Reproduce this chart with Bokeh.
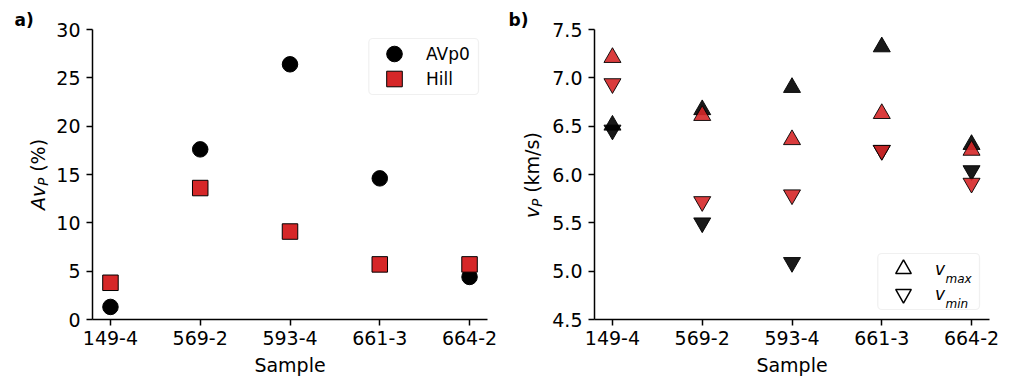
import math
from bokeh.plotting import figure
from bokeh.layouts import row
from bokeh.models import (Range1d, FixedTicker, Legend, LegendItem, Label, Title,
                          ColumnDataSource, PrintfTickFormatter, BoxAnnotation)
from bokeh.embed import file_html
from bokeh.resources import INLINE

# ---------------- data ----------------
samples = ["149-4", "569-2", "593-4", "661-3", "664-2"]

# panel a: P-wave anisotropy (%)
avp_avp0 = [1.3, 17.6, 26.4, 14.6, 4.4]
avp_hill = [3.8, 13.6, 9.1, 5.7, 5.7]

# panel b: vp max / min (km/s)
vmax_avp0 = [6.51, 6.67, 6.90, 7.32, 6.31]
vmin_avp0 = [6.46, 5.50, 5.09, 6.25, 6.04]
vmax_hill = [7.21, 6.61, 6.36, 6.63, 6.25]
vmin_hill = [6.94, 5.72, 5.79, 6.25, 5.91]

a_yticks = [0, 5, 10, 15, 20, 25, 30]
b_yticks = [4.5, 5.0, 5.5, 6.0, 6.5, 7.0, 7.5]

RED = "#d62728"
FONT = "DejaVu Sans"
FS = "19px"
SUB = "13.3px"
H = 379
TOP, BOTTOM = 29, 60          # borders above / below the plotting frames
FRAME_W, FRAME_H = 396, 290

xpos = list(range(len(samples)))
overrides = {i: s for i, s in enumerate(samples)}


def style(p):
    p.outline_line_color = None
    p.xgrid.visible = False
    p.ygrid.visible = False
    p.background_fill_color = "white"
    p.border_fill_color = "white"
    for ax in (p.xaxis[0], p.yaxis[0]):
        ax.axis_line_width = 1.5
        ax.axis_line_color = "black"
        ax.major_tick_line_width = 1.5
        ax.major_tick_line_color = "black"
        ax.major_tick_in = 0
        ax.major_tick_out = 6
        ax.minor_tick_line_color = None
        ax.major_label_text_font = FONT
        ax.major_label_text_font_size = FS
        ax.major_label_text_color = "black"
    p.xaxis.ticker = FixedTicker(ticks=xpos)
    p.xaxis.major_label_overrides = overrides
    p.xaxis.major_label_standoff = 5
    p.yaxis.major_label_standoff = 6
    p.xaxis.axis_label = "Sample"
    p.xaxis.axis_label_text_font = FONT
    p.xaxis.axis_label_text_font_style = "normal"
    p.xaxis.axis_label_text_font_size = FS
    p.xaxis.axis_label_text_color = "black"
    p.xaxis.axis_label_standoff = 6


def strip(width, tag, tag_x):
    # narrow text-only figure holding the panel tag and the y-axis label;
    # its frame is aligned with the neighbouring plot frame, so data y = H - pixel row
    t = Title(text=tag, align="left", offset=tag_x, standoff=0, text_font=FONT,
              text_font_size="17px", text_font_style="bold", text_color="black")
    s = figure(width=width, height=H, x_range=Range1d(0, width),
               y_range=Range1d(H - (H - BOTTOM), H - TOP), x_axis_type=None,
               y_axis_type=None, title=t, output_backend="svg",
               toolbar_location=None, min_border_left=0, min_border_right=0,
               min_border_top=TOP, min_border_bottom=BOTTOM)
    s.outline_line_color = None
    s.xgrid.visible = False
    s.ygrid.visible = False
    return s


def txt(p, text, x, y, fs=FS, st="normal", angle=0, units="data",
        align="left", baseline="alphabetic"):
    p.add_layout(Label(x=x, y=y, x_units=units, y_units=units, text=text,
                       angle=angle, angle_units="deg", text_align=align,
                       text_baseline=baseline, text_font=FONT,
                       text_font_size=fs, text_font_style=st, text_color="black"))


def vtxt(p, text, x, y, fs=FS, st="normal"):
    # vertical text (reading bottom to top), centred on (x, H - y)
    txt(p, text, x, H - y, fs=fs, st=st, angle=90, align="center", baseline="middle")


def legend_box(p, left, right, top, bottom):
    # pixel offsets from the frame's top-left corner -> data coordinates
    xs, xe = p.x_range.start, p.x_range.end
    ys, ye = p.y_range.start, p.y_range.end
    px = lambda v: xs + v / FRAME_W * (xe - xs)
    py = lambda v: ye - v / FRAME_H * (ye - ys)
    p.add_layout(BoxAnnotation(left=px(left), right=px(right), top=py(top),
                               bottom=py(bottom), fill_color="white",
                               fill_alpha=0.8, line_color="#cccccc",
                               line_width=1.2, border_radius=4))


def legend_item(p, label, renderer, x, y, italic=False):
    p.add_layout(Legend(items=[LegendItem(label=label, renderers=[renderer])],
                        location=(x, y), margin=0, padding=0,
                        glyph_width=50, glyph_height=39, spacing=0,
                        label_standoff=7, label_width=20, label_height=20,
                        label_text_font=FONT, label_text_font_size="17px",
                        label_text_color="black",
                        label_text_font_style="italic" if italic else "normal",
                        border_line_color=None, background_fill_alpha=0))


# ---------------- panel a ----------------
sa = strip(53, "a)", 14)
# y label  Av_P (%)  (pixel rows of the piece centres)
vtxt(sa, "Av", 37.4, 197.4, st="italic")
vtxt(sa, "P", 42.9, 181.3, fs=SUB, st="italic")
vtxt(sa, "(%)", 37.4, 154.85)

pa = figure(width=452, height=H, x_range=Range1d(-0.2, 4.2),
            y_range=Range1d(0, 30), title=None, output_backend="svg",
            toolbar_location=None, min_border_left=38, min_border_right=18,
            min_border_top=TOP, min_border_bottom=BOTTOM)
style(pa)
pa.yaxis.ticker = FixedTicker(ticks=a_yticks)

src_a = ColumnDataSource(dict(x=xpos, avp0=avp_avp0, hill=avp_hill))
r_c = pa.scatter(x="x", y="avp0", source=src_a, marker="circle", size=15.5,
                 fill_color="black", line_color="black", line_width=1)
r_s = pa.scatter(x="x", y="hill", source=src_a, marker="square", size=15.5,
                 fill_color=RED, line_color="black", line_width=1)
legend_box(pa, 277, 387, 9, 65)
legend_item(pa, "AVp0", r_c, 277, 246)
legend_item(pa, "Hill", r_s, 277, 221)

# ---------------- panel b ----------------
sb = strip(44, "b)", 3)
# y label  v_P (km/s)
vtxt(sb, "v", 26.4, 211.9, st="italic")
vtxt(sb, "P", 31.9, 202.3, fs=SUB, st="italic")
vtxt(sb, "(km/s)", 26.4, 162.0)

pb = figure(width=464, height=H, x_range=Range1d(-0.2, 4.2),
            y_range=Range1d(4.5, 7.5), title=None, output_backend="svg",
            toolbar_location=None, min_border_left=44, min_border_right=24,
            min_border_top=TOP, min_border_bottom=BOTTOM)
style(pb)
pb.yaxis.ticker = FixedTicker(ticks=b_yticks)
pb.yaxis.formatter = PrintfTickFormatter(format="%.1f")

src_b = ColumnDataSource(dict(x=xpos, vmax_avp0=vmax_avp0, vmin_avp0=vmin_avp0,
                              vmax_hill=vmax_hill, vmin_hill=vmin_hill))
TRI = 17
for col, mk, fc in [("vmax_avp0", "triangle", "black"),
                    ("vmin_avp0", "inverted_triangle", "black"),
                    ("vmax_hill", "triangle", RED),
                    ("vmin_hill", "inverted_triangle", RED)]:
    pb.scatter(x="x", y=col, source=src_b, marker=mk, size=TRI, fill_color=fc,
               fill_alpha=0.9, line_color="black", line_alpha=0.9, line_width=1)

# legend-only glyphs (no visible data points)
leg_up = pb.scatter(x=[math.nan], y=[math.nan], marker="triangle", size=TRI,
                    fill_color="white", line_color="black", line_width=1.5)
leg_dn = pb.scatter(x=[math.nan], y=[math.nan], marker="inverted_triangle",
                    size=TRI, fill_color="white", line_color="black", line_width=1.5)
legend_box(pb, 284, 386, 224, 280)
legend_item(pb, "v", leg_up, 284, 31, italic=True)
legend_item(pb, "v", leg_dn, 284, 6, italic=True)
txt(pb, "max", 351, 40.5, fs="12px", st="italic", units="screen")
txt(pb, "min", 351, 15.5, fs="12px", st="italic", units="screen")

layout = row(sa, pa, sb, pb)
open("out.html", "w").write(file_html(layout, INLINE))
